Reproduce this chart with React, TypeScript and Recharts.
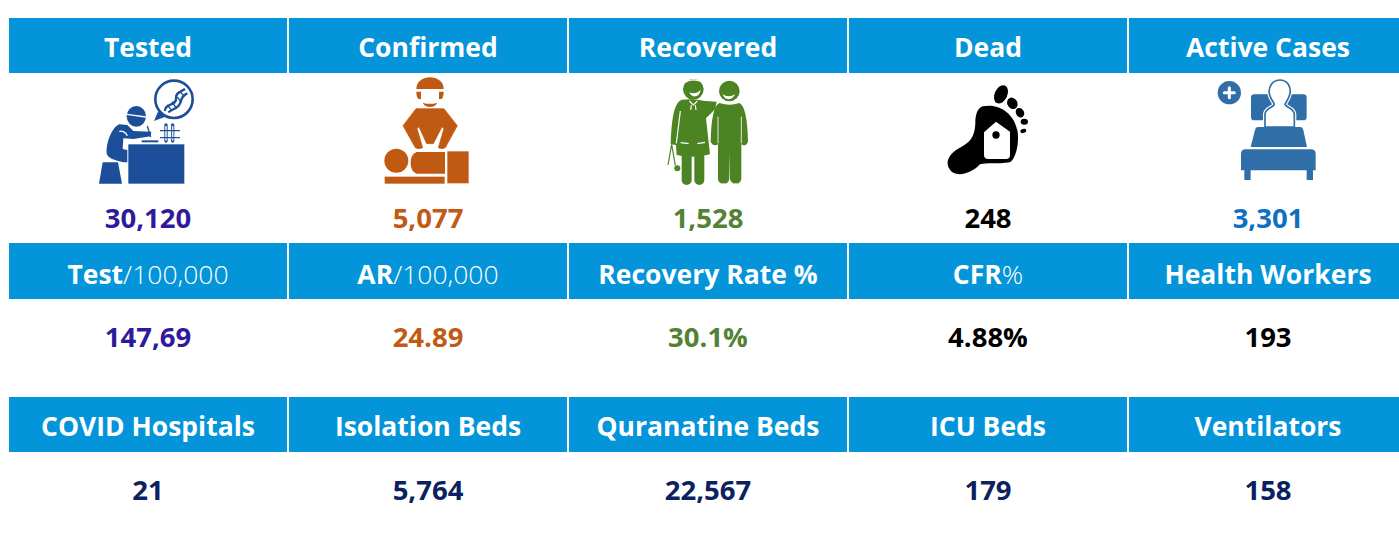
import React from "react";
import { ComposedChart, Scatter, XAxis, YAxis, ReferenceLine } from "recharts";

const WIDTH = 1399;
const HEIGHT = 536;

// ---- data ----
const caseTitles = ["Tested", "Confirmed", "Recovered", "Dead", "Active Cases"];
const caseValues = ["30,120", "5,077", "1,528", "248", "3,301"];
const caseColors = ["#2e1a9c", "#c05a14", "#548235", "#000000", "#0f6fc0"];
const iconNames = ["tested", "confirmed", "recovered", "dead", "active"];
const rateTitlesBold = ["Test", "AR", "Recovery Rate %", "CFR", "Health Workers"];
const rateTitlesLight = ["/100,000", "/100,000", "", "%", ""];
const rateValues = ["147,69", "24.89", "30.1%", "4.88%", "193"];
const rateColors = ["#2e1a9c", "#c05a14", "#548235", "#000000", "#000000"];
const capacityTitles = ["COVID Hospitals", "Isolation Beds", "Quranatine Beds", "ICU Beds", "Ventilators"];
const capacityValues = ["21", "5,764", "22,567", "179", "158"];
const capacityColor = "#0b2160";

// ---- layout (kept apart from the data) ----
const COL_PX = 280;
const COL0_PX = 148;
const FONT = "'Open Sans', 'Noto Sans', sans-serif";
const HEADER_BLUE = "#0394d9";

const headerRows = [
  { center: 45.5, height: 55, baseline: 57 },
  { center: 271, height: 56, baseline: 284 },
  { center: 424.5, height: 55, baseline: 436 },
];
const valueBaselines = [228, 347, 500];
const ICON_Y = 75;

const headerData = (row: number, bold: string[], light: string[]) =>
  bold.map((b, col) => ({ col, y: headerRows[row].center, bold: b, light: light[col] }));
const valueData = (y: number, values: string[], colors: string[]) =>
  values.map((v, col) => ({ col, y, v, color: colors[col] }));

const noLight = ["", "", "", "", ""];
const headers = [
  ...headerData(0, caseTitles, noLight),
  ...headerData(1, rateTitlesBold, rateTitlesLight),
  ...headerData(2, capacityTitles, noLight),
].map((d, i) => ({ ...d, baseline: headerRows[Math.floor(i / 5)].baseline, h: headerRows[Math.floor(i / 5)].height }));

const values = [
  ...valueData(valueBaselines[0], caseValues, caseColors),
  ...valueData(valueBaselines[1], rateValues, rateColors),
  ...valueData(valueBaselines[2], capacityValues, caseValues.map(() => capacityColor)),
];
const icons = iconNames.map((name, col) => ({ col, y: ICON_Y, name }));

// ---- shapes ----
const HeaderCell = (p: any) => {
  const { cx, payload } = p;
  const cy = p.cy;
  return (
    <g>
      <rect x={cx - 139} y={cy - payload.h / 2} width={278} height={payload.h} fill={HEADER_BLUE} />
      <text x={cx} y={payload.baseline} textAnchor="middle" fontFamily={FONT} fontSize={26.5} fill="#fff">
        <tspan fontWeight={700}>{payload.bold}</tspan>
        {payload.light ? <tspan fontWeight={300}>{payload.light}</tspan> : null}
      </text>
    </g>
  );
};

const ValueCell = (p: any) => {
  const { cx, cy, payload } = p;
  return (
    <text x={cx} y={cy} textAnchor="middle" fontFamily={FONT} fontWeight={700} fontSize={27.5} fill={payload.color}>
      {payload.v}
    </text>
  );
};

const W = "#ffffff";

const TestedIcon = () => {
  const c = "#1d4e9a";
  return (
    <g>
      <path d="M205 108 L192 138 L230 124 Z" fill={c} />
      <circle cx={252} cy={73} r={56} fill="#fff" stroke={c} strokeWidth={8} />
      <path d="M225 108 C222 85 262 92 258 70 C255 55 272 50 285 42" fill="none" stroke={c} strokeWidth={7} />
      <path d="M235 112 C250 100 268 100 272 80 C276 62 285 58 292 55" fill="none" stroke={c} strokeWidth={7} />
      <path d="M232 90 L245 106 M246 80 L258 98 M262 66 L274 82 M270 50 L282 62" stroke={c} strokeWidth={4} />
      <ellipse cx={139} cy={124} rx={29} ry={31} fill={c} />
      <path d="M110 118 L168 126" stroke="#fff" strokeWidth={4} />
      <path d="M88 148 C68 155 48 200 50 235 C52 250 75 256 100 262 L112 262 L112 225 L98 222 L100 190 L130 192 L182 184 L184 170 L130 168 L112 150 Z" fill={c} />
      <path d="M88 170 C95 165 108 172 112 182" stroke="#fff" strokeWidth={4} fill="none" />
      <path d="M172 153 L182 186" stroke={c} strokeWidth={4} />
      <rect x={155} y={196} width={50} height={6} fill={c} />
      <path d="M228 150 V198 M248 150 V198" stroke={c} strokeWidth={10} strokeLinecap="round" />
      <path d="M228 155 V195 M248 155 V195" stroke="#dfe8f4" strokeWidth={5} strokeLinecap="round" />
      <path d="M210 167 H270 M210 188 H270" stroke={c} strokeWidth={4} />
      <rect x={115} y={208} width={168} height={118} fill={c} />
      <path d="M38 262 H84 L96 326 H27 Z" fill={c} />
    </g>
  );
};

const ConfirmedIcon = () => {
  const c = "#c05a12";
  return (
    <g>
      <path d="M139 42 C139 -5 221 -5 221 42 Z" fill={c} />
      <path d="M139 50 H153 V72 H145 Q139 66 139 50 Z M221 50 H207 V72 H215 Q221 66 221 50 Z" fill={c} />
      <path d="M158 83 Q180 90 202 83 Q195 96 180 96 Q165 96 158 83 Z" fill={c} />
      <path d="M138 101 H222 L262 152 L226 218 Q215 224 205 218 L222 160 L216 156 L190 206 L170 206 L147 156 L141 160 L158 218 Q146 224 136 218 L99 152 Z" fill={c} stroke={c} strokeWidth={2} strokeLinejoin="round" />
      <circle cx={79} cy={257} r={36} fill={c} />
      <path d="M140 231 H225 V296 H140 Q122 290 122 263 Q122 238 140 231 Z" fill={c} />
      <rect x={232} y={229} width={64} height={96} fill={c} />
      <rect x={44} y={305} width={180} height={21} fill={c} />
    </g>
  );
};

const RecoveredIcon = () => {
  const c = "#4d8423";
  return (
    <g>
      <circle cx={130} cy={43} r={31} fill={c} />
      <path d="M104 22 Q128 8 156 20" stroke={W} strokeWidth={4} fill="none" />
      <path d="M118 52 Q138 60 152 44 Q148 66 130 64 Q122 62 118 52 Z" fill={W} />
      <path d="M96 74 C76 82 66 110 62 208 L78 210 L80 240 Q130 252 180 238 L168 130 L196 102 L200 80 L165 78 Q130 70 96 74 Z" fill={c} />
      <path d="M118 78 L130 90 L142 78 M124 90 L122 105 M136 90 L138 105" stroke={W} strokeWidth={3.5} fill="none" />
      <path d="M92 203 L116 206 M142 206 L165 202 M91 108 L79 205" stroke={W} strokeWidth={3.5} fill="none" />
      <path d="M110 245 V315" stroke={c} strokeWidth={30} strokeLinecap="round" />
      <path d="M148 245 V315" stroke={c} strokeWidth={30} strokeLinecap="round" />
      <path d="M65 208 L54 270 M65 208 L76 272" stroke={c} strokeWidth={3.5} fill="none" />
      <circle cx={82} cy={280} r={9} fill={c} />
      <circle cx={238} cy={48} r={31} fill={c} />
      <path d="M218 58 Q235 70 256 58 Q245 76 232 72 Q222 70 218 58 Z" fill={W} />
      <path d="M208 84 Q240 95 268 84 Q292 95 294 200 Q288 216 274 208 L274 312 Q270 328 258 325 Q244 328 240 312 L239 230 L238 312 Q234 328 222 325 Q206 328 204 312 V208 Q190 216 182 200 Q184 95 208 84 Z" fill={c} />
      <path d="M204 125 L204 205 M274 125 L274 205" stroke={W} strokeWidth={2.5} />
    </g>
  );
};

const DeadIcon = () => {
  const c = "#000000";
  return (
    <g>
      <ellipse cx={213} cy={58} rx={19} ry={29} transform="rotate(25 213 58)" fill={c} />
      <ellipse cx={247} cy={85} rx={15} ry={18} transform="rotate(-30 247 85)" fill={c} />
      <ellipse cx={270} cy={113} rx={12} ry={15} transform="rotate(-30 270 113)" fill={c} />
      <ellipse cx={283} cy={140} rx={11} ry={9} fill={c} />
      <ellipse cx={280} cy={168} rx={9} ry={6} transform="rotate(-20 280 168)" fill={c} />
      <path d="M158 94 C205 84 252 112 263 170 C268 210 256 252 240 262 C200 268 170 262 150 268 C125 295 85 306 65 290 C40 265 55 235 95 215 C130 198 135 170 136 145 C136 120 142 100 158 94 Z" fill={c} />
      <path d="M198 140 L240 170 V240 Q240 252 228 252 H175 Q162 252 162 240 V172 Z" fill="#fff" />
      <circle cx={198} cy={180} r={11} fill={c} />
    </g>
  );
};

const ActiveIcon = () => {
  const c = "#2f6ea6";
  return (
    <g>
      <circle cx={73} cy={53} r={35} fill={c} />
      <path d="M73 38 V68 M58 53 H88" stroke="#fff" strokeWidth={9} strokeLinecap="round" />
      <rect x={138} y={58} width={167} height={78} rx={10} fill={c} />
      <path d="M225 15 C248 15 258 35 255 55 C252 72 243 80 240 88 C240 96 268 100 268 118 V156 H180 V118 C180 100 208 96 208 88 C205 80 196 72 193 55 C190 35 202 15 225 15 Z" fill="#fff" stroke="#fff" strokeWidth={12} />
      <path d="M225 15 C248 15 258 35 255 55 C252 72 243 80 240 88 C240 96 268 100 268 118 V156 H180 V118 C180 100 208 96 208 88 C205 80 196 72 193 55 C190 35 202 15 225 15 Z" fill="#fff" stroke={c} strokeWidth={5} />
      <path d="M158 156 H287 Q293 156 295 165 L306 216 H137 L150 165 Q152 156 158 156 Z" fill={c} />
      <path d="M122 223 H318 Q332 223 332 237 V286 H108 V237 Q108 223 122 223 Z" fill={c} />
      <rect x={118} y={285} width={19} height={30} fill={c} />
      <rect x={305} y={285} width={19} height={30} fill={c} />
    </g>
  );
};

const iconMap: Record<string, { el: React.ReactNode; dx: number }> = {
  tested: { el: <TestedIcon />, dx: -58 },
  confirmed: { el: <ConfirmedIcon />, dx: -58 },
  recovered: { el: <RecoveredIcon />, dx: -58 },
  dead: { el: <DeadIcon />, dx: -58 },
  active: { el: <ActiveIcon />, dx: -63 },
};

const IconCell = (p: any) => {
  const { cx, cy, payload } = p;
  const icon = iconMap[payload.name];
  return <g transform={`translate(${cx + icon.dx} ${cy}) scale(0.3333)`}>{icon.el}</g>;
};

const colDomain = [-COL0_PX / COL_PX, (WIDTH - COL0_PX) / COL_PX];

export default function App() {
  return (
    <div style={{ position: "absolute", left: 0, top: 0, width: WIDTH, height: HEIGHT, background: "#fff", overflow: "hidden" }}>
      <ComposedChart width={WIDTH} height={HEIGHT} margin={{ top: 0, right: 0, bottom: 0, left: 0 }}>
        <XAxis xAxisId="col" type="number" dataKey="col" domain={colDomain} hide allowDataOverflow />
        <XAxis xAxisId="px" type="number" domain={[0, WIDTH]} hide allowDataOverflow />
        <YAxis type="number" dataKey="y" domain={[0, HEIGHT]} reversed hide allowDataOverflow />

        <ReferenceLine xAxisId="px" y={4.5} stroke="#d2e2f1" strokeWidth={1} />
        <ReferenceLine xAxisId="px" y={5.5} stroke="#1f78c8" strokeWidth={1} />
        <ReferenceLine xAxisId="px" y={379} stroke="#5b9fd6" strokeWidth={2} />
        <ReferenceLine xAxisId="px" y={383.5} stroke="#cfe0f0" strokeWidth={1} />
        <ReferenceLine xAxisId="px" y={384.7} stroke="#1f78c8" strokeWidth={1.4} />
        <ReferenceLine xAxisId="px" segment={[{ x: 6.5, y: 5 }, { x: 6.5, y: 380 }]} stroke="#5aa6e0" strokeWidth={1.5} />
        <ReferenceLine xAxisId="px" segment={[{ x: 6.5, y: 384 }, { x: 6.5, y: 536 }]} stroke="#5aa6e0" strokeWidth={1.5} />

        <Scatter xAxisId="col" data={headers} dataKey="y" shape={HeaderCell} isAnimationActive={false} />
        <Scatter xAxisId="col" data={icons} dataKey="y" shape={IconCell} isAnimationActive={false} />
        <Scatter xAxisId="col" data={values} dataKey="y" shape={ValueCell} isAnimationActive={false} />
      </ComposedChart>
    </div>
  );
}
